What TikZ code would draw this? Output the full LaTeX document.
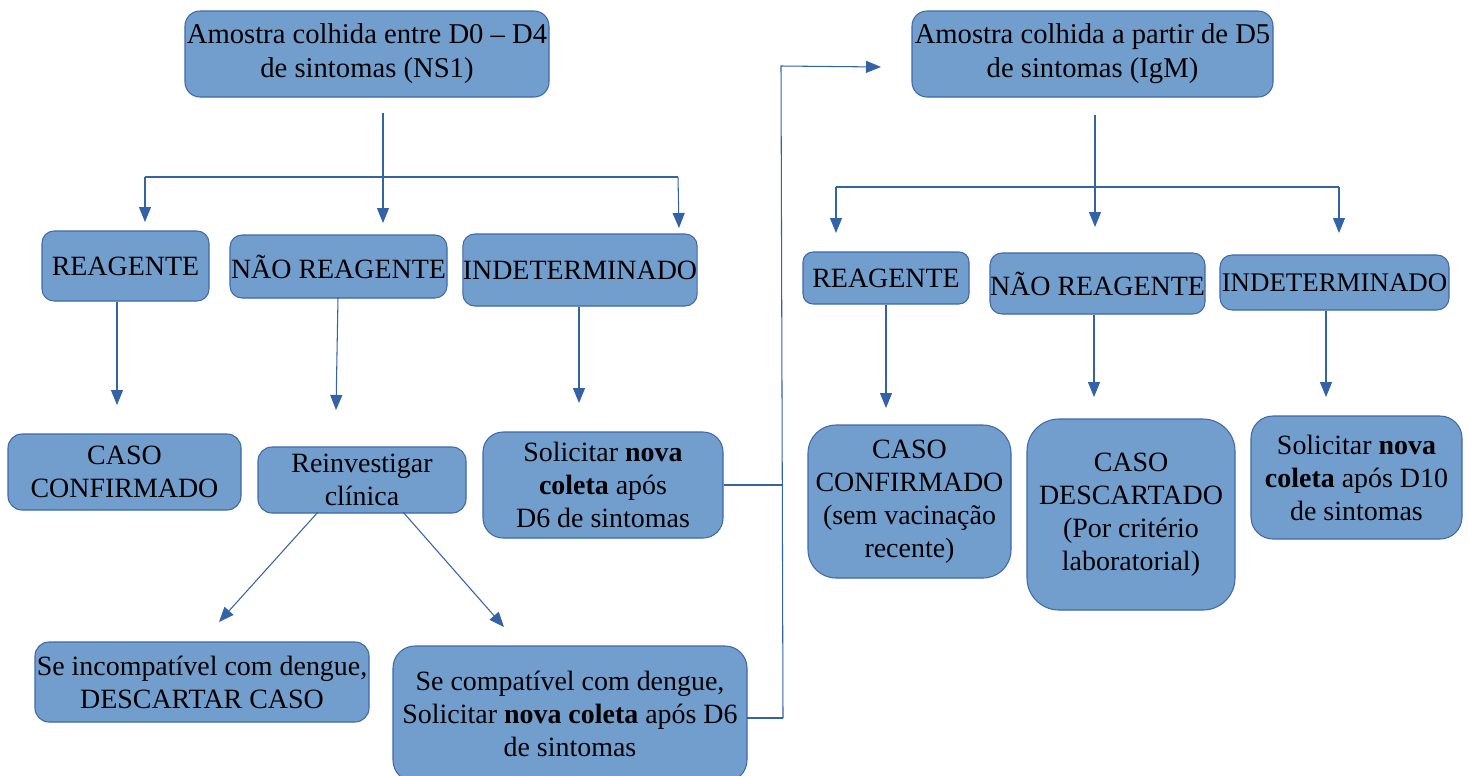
\documentclass[tikz,border=0pt]{standalone}
\usepackage{fontspec}
\setmainfont{Liberation Serif}
\usetikzlibrary{arrows.meta}
\definecolor{boxfill}{RGB}{114,158,206}
\definecolor{boxline}{RGB}{62,104,170}
\definecolor{wire}{RGB}{52,98,166}

\begin{document}
\begin{tikzpicture}[x=0.02cm,y=-0.02cm,
  card/.style n args={3}{draw=boxline, fill=boxfill, line width=0.6pt,
    rounded corners=#3*0.02cm, minimum width=#1*0.02cm, minimum height=#2*0.02cm,
    inner sep=0pt, align=center, font=\fontsize{15.9}{18.8}\selectfont},
  bigtext/.style={font=\fontsize{16.3}{19.3}\selectfont},
  smalltext/.style={font=\fontsize{15.3}{18.2}\selectfont},
  conn/.style={draw=wire, line width=0.6pt},
  tip/.style={conn, -{Triangle[length=0.3cm,width=0.24cm]}}]

\useasboundingbox (0,0) rectangle (1468,775);
\fill[white] (0,0) rectangle (1468,775);

% first sample (NS1) branch
\node[card={364}{86}{15}, bigtext] (sL) at (367,54) {Amostra colhida entre D0 – D4\\de sintomas (NS1)};
\node[card={167}{70}{12}] (lrea) at (125.5,266) {REAGENTE};
\node[card={217}{63}{12}] (lnao) at (338.5,266.5) {NÃO REAGENTE};
\node[card={230}{72}{12}] (lind) at (580,270) {INDETERMINADO};
\node[card={233}{76}{14}] (lconf) at (124.5,472) {CASO\\CONFIRMADO};
\node[card={208}{66}{14}] (lrein) at (362,480) {Reinvestigar\\clínica};
\node[card={240}{106}{20}] (lsol) at (603,485) {Solicitar \textbf{nova}\\\textbf{coleta} após\\D6 de sintomas};
\node[card={334}{80}{14}] (lincomp) at (202,682) {Se incompatível com dengue,\\DESCARTAR CASO};
\node[card={354}{136}{22}] (lcomp) at (570,714) {Se compatível com dengue,\\Solicitar \textbf{nova coleta} após D6\\de sintomas};

% second sample (IgM) branch
\node[card={361}{86}{15}, bigtext] (sR) at (1092.5,54) {Amostra colhida a partir de D5\\de sintomas (IgM)};
\node[card={166}{52}{10}] (rrea) at (886,278) {REAGENTE};
\node[card={215}{61}{12}] (rnao) at (1097.5,283.5) {NÃO REAGENTE};
\node[card={229}{55}{12}, smalltext] (rind) at (1334.5,282.5) {INDETERMINADO};
\node[card={203}{153}{28}] (rconf) at (909.5,501.5) {CASO\\CONFIRMADO\\(sem vacinação\\recente)};
\node[card={208}{191}{32}] (rdesc) at (1131,514.5) {CASO\\DESCARTADO\\(Por critério\\laboratorial)};
\node[card={211}{123}{22}] (rsol) at (1356.5,477.5) {Solicitar \textbf{nova}\\\textbf{coleta} após D10\\de sintomas};

% junction points of the connectors
\coordinate (lstem) at (383,113);
\coordinate (lstemTip) at (383,223);
\coordinate (lbarL) at (145,177);
\coordinate (lbarR) at (678,177);
\coordinate (lTipL) at (145,222);
\coordinate (lTipR) at (679,228);

\coordinate (rstem) at (1095,115);
\coordinate (rstemTip) at (1095,227);
\coordinate (rbarL) at (836,187);
\coordinate (rbarR) at (1339,187);
\coordinate (rTipL) at (836,233);
\coordinate (rTipR) at (1339,233);

\coordinate (lreaTip) at (117,405);
\coordinate (lnaoTip) at (336,410);
\coordinate (lnaoTop) at (338,297);
\coordinate (lindTip) at (579,403);
\coordinate (rreaTip) at (886,408);
\coordinate (rnaoTip) at (1094,397);
\coordinate (rindTip) at (1326,397);

\coordinate (reinL) at (318,512);
\coordinate (reinR) at (403,512);
\coordinate (incTip) at (219,622);
\coordinate (compTip) at (504,627);

\coordinate (loopMid) at (782,485);
\coordinate (loopBot) at (783,718);
\coordinate (loopTop) at (781,66);
\coordinate (loopTip) at (881,67);
\coordinate (compOut) at (747,718);

% first level splits
\draw[conn] (lbarL) -- (lbarR);
\draw[tip] (lstem) -- (lstemTip);
\draw[tip] (lbarL) -- (lTipL);
\draw[tip] (lbarR) -- (lTipR);

\draw[conn] (rbarL) -- (rbarR);
\draw[tip] (rstem) -- (rstemTip);
\draw[tip] (rbarL) -- (rTipL);
\draw[tip] (rbarR) -- (rTipR);

% results
\draw[tip] (lrea.south -| lreaTip) -- (lreaTip);
\draw[tip] (lnaoTop) -- (lnaoTip);
\draw[tip] (lind.south -| lindTip) -- (lindTip);
\draw[tip] (rrea.south -| rreaTip) -- (rreaTip);
\draw[tip] (rnao.south -| rnaoTip) -- (rnaoTip);
\draw[tip] (rind.south -| rindTip) -- (rindTip);

% clinical reinvestigation
\draw[tip] (reinL) -- (incTip);
\draw[tip] (reinR) -- (compTip);

% new sample leads to the IgM branch
\draw[conn] (lsol.east) -- (loopMid);
\draw[conn] (compOut) -- (loopBot);
\draw[tip] (loopBot) -- (loopTop) -- (loopTip);
\end{tikzpicture}
\end{document}
